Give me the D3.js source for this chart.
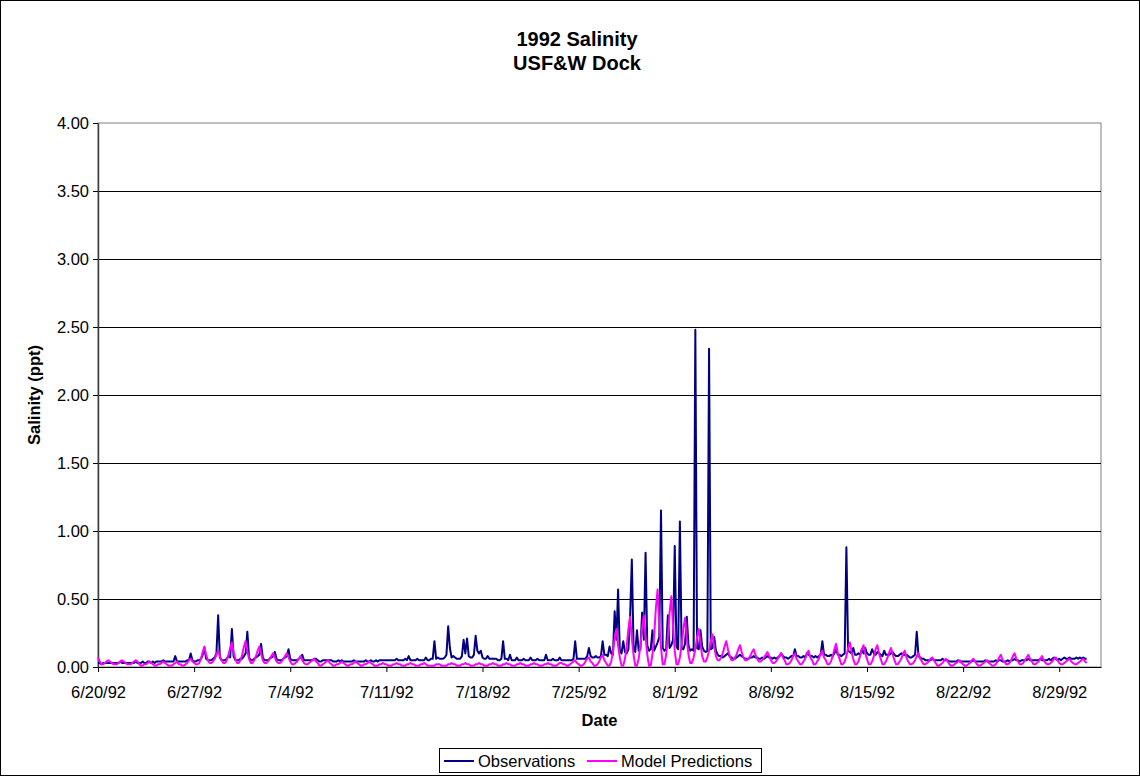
<!DOCTYPE html>
<html>
<head>
<meta charset="utf-8">
<script src="https://cdn.jsdelivr.net/npm/d3@7"></script>
<style>
  body { margin: 0; background: #fff; }
  svg { display: block; font-family: "Liberation Sans", Arial, sans-serif; }
</style>
</head>
<body>
<div id="chart"></div>
<script>
const titleLines = ["1992 Salinity", "USF&W Dock"]
const xTitle = "Date"
const yTitle = "Salinity (ppt)"
const seriesNames = ["Observations", "Model Predictions"]
const xTickLabels = ["6/20/92", "6/27/92", "7/4/92", "7/11/92", "7/18/92", "7/25/92",
  "8/1/92", "8/8/92", "8/15/92", "8/22/92", "8/29/92"]
const yTickValues = [0, 0.5, 1, 1.5, 2, 2.5, 3, 3.5, 4]

// readings every 3 hours starting 6/20/92 00:00, one line per day
const startDate = "6/20/92"
const stepHours = 3

const observations = [
  .03,.03,.02,.03,.03,.03,.03,.03, // 6/20
  .03,.03,.03,.03,.03,.04,.03,.03,
  .03,.03,.03,.03,.03,.03,.04,.03,
  .03,.03,.04,.03,.03,.04,.04,.03,
  .04,.03,.04,.04,.04,.04,.05,.04,
  .04,.04,.04,.04,.04,.08,.04,.04, // 6/25
  .04,.04,.04,.04,.05,.05,.10,.05,
  .04,.04,.05,.05,.06,.09,.14,.06,
  .05,.05,.05,.06,.07,.10,.38,.07,
  .05,.05,.05,.06,.08,.07,.28,.08,
  .05,.05,.05,.06,.06,.08,.10,.26, // 6/30
  .07,.05,.05,.06,.07,.08,.09,.17,
  .07,.05,.05,.05,.06,.07,.08,.11,
  .06,.05,.05,.05,.06,.07,.08,.13,
  .06,.05,.05,.05,.05,.06,.07,.09,
  .05,.05,.05,.05,.05,.05,.06,.06, // 7/5
  .05,.04,.04,.05,.05,.05,.05,.05,
  .05,.04,.04,.04,.05,.04,.05,.04,
  .04,.04,.04,.04,.04,.05,.04,.04,
  .04,.04,.04,.04,.05,.04,.04,.05,
  .04,.04,.05,.04,.05,.05,.05,.05, // 7/10
  .05,.05,.05,.05,.05,.05,.06,.05,
  .05,.05,.05,.06,.05,.08,.05,.05,
  .05,.05,.06,.05,.05,.05,.05,.07,
  .05,.05,.06,.06,.19,.06,.07,.06,
  .06,.06,.07,.09,.30,.14,.07,.08, // 7/15
  .07,.06,.06,.06,.08,.20,.10,.21,
  .08,.07,.07,.09,.23,.12,.10,.12,
  .07,.06,.06,.08,.06,.06,.06,.06,
  .06,.05,.05,.06,.19,.06,.06,.05,
  .09,.05,.05,.05,.07,.05,.05,.05, // 7/20
  .06,.05,.05,.05,.07,.05,.05,.05,
  .06,.05,.05,.05,.05,.09,.05,.05,
  .05,.06,.05,.05,.05,.07,.05,.05,
  .05,.05,.05,.05,.05,.06,.19,.06,
  .06,.06,.06,.06,.06,.08,.14,.08, // 7/25
  .07,.07,.08,.07,.07,.08,.19,.09,
  .09,.08,.15,.10,.09,.41,.20,.57,
  .12,.10,.19,.11,.10,.13,.37,.79,
  .15,.11,.27,.12,.13,.40,.20,.84,
  .16,.12,.13,.27,.12,.15,.18,.22, // 7/30
  1.15,.14,.12,.13,.38,.14,.16,.20,
  .89,.15,.13,1.07,.14,.13,.17,.37,
  .16,.12,.13,.12,2.48,.14,.13,.27,
  .15,.12,.11,.12,2.34,.13,.14,.22,
  .12,.09,.08,.08,.07,.08,.09,.10, // 8/4
  .08,.07,.06,.06,.07,.08,.09,.08,
  .07,.06,.06,.06,.07,.07,.08,.07,
  .07,.06,.06,.07,.06,.07,.08,.07,
  .07,.06,.07,.06,.07,.08,.10,.08,
  .07,.07,.06,.07,.08,.08,.13,.08, // 8/9
  .08,.07,.07,.08,.07,.10,.09,.08,
  .08,.07,.08,.07,.08,.09,.19,.09,
  .09,.08,.08,.09,.08,.10,.13,.09,
  .09,.08,.09,.10,.88,.12,.11,.10,
  .14,.09,.09,.10,.09,.13,.10,.14, // 8/14
  .10,.09,.09,.13,.10,.09,.11,.10,
  .09,.08,.12,.09,.09,.09,.10,.11,
  .09,.08,.08,.09,.10,.09,.09,.09,
  .08,.07,.07,.08,.09,.26,.08,.07,
  .06,.06,.05,.05,.05,.05,.06,.05, // 8/19
  .05,.05,.05,.05,.06,.05,.05,.05,
  .04,.04,.04,.04,.04,.05,.04,.04,
  .04,.04,.04,.04,.04,.04,.05,.04,
  .04,.04,.04,.04,.04,.05,.04,.04,
  .04,.04,.04,.05,.04,.05,.05,.04, // 8/24
  .04,.04,.05,.04,.05,.05,.06,.05,
  .05,.04,.05,.05,.05,.05,.06,.05,
  .05,.05,.05,.05,.05,.06,.05,.05,
  .05,.05,.06,.05,.06,.07,.06,.05,
  .06,.05,.06,.07,.06,.06,.07,.06, // 8/29
  .06,.06,.07,.06,.07,.06,.07,.06,
  .06
]

const modelPredictions = [
  .07,.04,.02,.02,.03,.04,.05,.04, // 6/20
  .03,.02,.02,.02,.03,.04,.05,.04,
  .03,.02,.02,.02,.03,.04,.05,.04,
  .02,.01,.01,.02,.02,.03,.04,.03,
  .02,.01,.01,.02,.02,.03,.04,.03,
  .02,.01,.01,.01,.02,.03,.04,.02, // 6/25
  .02,.01,.01,.02,.03,.05,.06,.04,
  .03,.02,.02,.03,.06,.11,.15,.09,
  .05,.03,.03,.04,.06,.09,.12,.08,
  .05,.03,.03,.05,.09,.14,.18,.11,
  .06,.03,.03,.05,.09,.15,.19,.12, // 6/30
  .06,.03,.03,.05,.08,.12,.15,.10,
  .05,.03,.03,.04,.06,.08,.10,.07,
  .04,.03,.03,.04,.06,.08,.10,.07,
  .04,.02,.02,.03,.04,.06,.08,.05,
  .03,.02,.02,.03,.04,.05,.06,.04, // 7/5
  .03,.01,.01,.02,.03,.04,.05,.03,
  .02,.01,.01,.02,.02,.03,.04,.03,
  .02,.01,.01,.02,.02,.03,.04,.03,
  .02,.01,.01,.02,.02,.03,.04,.03,
  .02,.01,.01,.01,.02,.02,.03,.02, // 7/10
  .02,.01,.01,.01,.02,.02,.03,.02,
  .02,.01,.01,.01,.02,.02,.03,.02,
  .02,.01,.01,.01,.02,.02,.03,.02,
  .01,.01,.01,.01,.01,.02,.02,.02,
  .01,.01,.01,.01,.02,.02,.03,.02, // 7/15
  .02,.01,.01,.01,.02,.02,.03,.02,
  .02,.01,.01,.01,.02,.02,.03,.02,
  .02,.01,.01,.01,.02,.02,.03,.02,
  .02,.01,.01,.01,.02,.02,.03,.02,
  .02,.01,.01,.01,.02,.02,.03,.02, // 7/20
  .02,.01,.01,.01,.02,.02,.03,.02,
  .02,.01,.01,.01,.02,.02,.03,.02,
  .02,.01,.01,.01,.02,.03,.03,.02,
  .02,.01,.01,.02,.03,.04,.05,.03,
  .02,.01,.01,.02,.04,.06,.07,.04, // 7/25
  .03,.01,.01,.02,.04,.07,.09,.05,
  .03,.01,.01,.04,.11,.21,.28,.16,
  .07,.01,.01,.06,.15,.28,.37,.21,
  .09,.01,.01,.06,.16,.29,.38,.22,
  .09,.01,.01,.09,.23,.43,.57,.32, // 7/30
  .14,.02,.02,.09,.22,.40,.52,.30,
  .12,.02,.02,.07,.16,.28,.36,.21,
  .09,.03,.03,.07,.13,.22,.28,.17,
  .08,.04,.04,.07,.12,.19,.24,.15,
  .08,.05,.05,.07,.10,.15,.19,.13, // 8/4
  .08,.05,.05,.07,.09,.13,.16,.11,
  .07,.05,.05,.06,.08,.11,.13,.09,
  .06,.04,.04,.05,.07,.09,.11,.08,
  .05,.03,.03,.04,.06,.08,.10,.07,
  .05,.02,.02,.03,.05,.08,.10,.06, // 8/9
  .04,.02,.02,.04,.06,.10,.12,.07,
  .05,.02,.02,.04,.06,.10,.12,.07,
  .05,.02,.02,.04,.08,.13,.17,.10,
  .06,.02,.02,.04,.08,.14,.18,.11,
  .06,.02,.02,.04,.08,.13,.16,.10, // 8/14
  .06,.02,.02,.04,.08,.13,.16,.10,
  .06,.02,.02,.04,.07,.11,.14,.09,
  .05,.02,.02,.04,.06,.10,.12,.07,
  .04,.02,.02,.03,.05,.08,.10,.06,
  .04,.02,.02,.03,.04,.06,.07,.05, // 8/19
  .03,.01,.01,.02,.03,.05,.06,.04,
  .02,.01,.01,.02,.03,.04,.05,.03,
  .02,.01,.01,.02,.03,.05,.06,.04,
  .02,.01,.01,.02,.03,.04,.05,.03,
  .02,.01,.01,.02,.04,.07,.09,.05, // 8/24
  .04,.02,.02,.03,.05,.08,.10,.06,
  .04,.02,.02,.03,.05,.07,.09,.06,
  .04,.02,.02,.03,.04,.06,.08,.05,
  .03,.02,.02,.03,.04,.06,.07,.05,
  .03,.02,.02,.03,.04,.05,.06,.04, // 8/29
  .03,.02,.02,.03,.04,.05,.06,.04,
  .03
]

const drawChart = () => {
  const width = 1140
  const height = 776
  const margin = { top: 123, right: 39, bottom: 109, left: 98 }
  const innerWidth = width - margin.left - margin.right
  const innerHeight = height - margin.top - margin.bottom

  const navy = "#000080"
  const magenta = "#FF00FF"

  const parseDate = d3.timeParse("%m/%d/%y")
  const start = parseDate(startDate)
  const timeAt = i => d3.timeHour.offset(start, i * stepHours)

  const svg = d3.select("#chart")
    .append("svg")
      .attr("width", width)
      .attr("height", height)

  svg.append("rect")
    .attr("x", 0.5).attr("y", 0.5)
    .attr("width", width - 1).attr("height", height - 1)
    .attr("fill", "#fff")
    .attr("stroke", "#000")

  // title
  svg.append("g")
    .selectAll("text")
    .data(titleLines)
    .join("text")
      .attr("x", 577)
      .attr("y", (d, i) => 46 + i * 24)
      .attr("text-anchor", "middle")
      .attr("font-weight", "bold")
      .attr("font-size", 20)
      .text(d => d)

  const xScale = d3.scaleTime()
    .domain([start, d3.timeHour.offset(start, 73 * 24 + 1)])
    .range([0, innerWidth])

  const yScale = d3.scaleLinear()
    .domain([0, 4])
    .range([innerHeight, 0])

  const chart = svg.append("g")
    .attr("transform", `translate(${margin.left}, ${margin.top})`)

  // plot area border
  chart.append("rect")
    .attr("x", 0).attr("y", 0)
    .attr("width", innerWidth).attr("height", innerHeight)
    .attr("fill", "none")
    .attr("stroke", "#808080")

  // gridlines
  chart.append("g")
    .selectAll("line")
    .data(yTickValues.filter(v => v > 0 && v < 4))
    .join("line")
      .attr("x1", 0)
      .attr("x2", innerWidth)
      .attr("y1", d => Math.round(yScale(d)) + 0.5)
      .attr("y2", d => Math.round(yScale(d)) + 0.5)
      .attr("stroke", "#000")

  const tickDates = xTickLabels.map(parseDate)
  const xAxis = d3.axisBottom(xScale)
    .tickValues(tickDates)
    .tickFormat((d, i) => xTickLabels[i])
    .tickSize(5)
    .tickSizeOuter(0)
  const xg = chart.append("g")
    .attr("transform", `translate(0, ${innerHeight})`)
    .call(xAxis)
  xg.selectAll("text")
    .attr("font-size", 16.5)
    .attr("y", 31)
    .attr("dy", 0)
    .attr("fill", "#000")
  xg.selectAll("line, path").attr("stroke", "#000")

  const yAxis = d3.axisLeft(yScale)
    .tickValues(yTickValues)
    .tickFormat(d3.format(".2f"))
    .tickSize(5)
    .tickSizeOuter(0)
  const yg = chart.append("g").call(yAxis)
  yg.selectAll("text").attr("font-size", 16.5).attr("x", -9).attr("fill", "#000")
  yg.selectAll("line, path").attr("stroke", "#000")
  yg.select(".domain").attr("stroke", "#404040").attr("stroke-width", 1.5)

  const line = d3.line()
    .x((d, i) => xScale(timeAt(i)))
    .y(d => yScale(d))

  chart.append("path")
    .attr("d", line(observations))
    .attr("fill", "none")
    .attr("stroke", navy)
    .attr("stroke-width", 2)
    .attr("stroke-linejoin", "round")

  chart.append("path")
    .attr("d", line(modelPredictions))
    .attr("fill", "none")
    .attr("stroke", magenta)
    .attr("stroke-width", 2)
    .attr("stroke-linejoin", "round")

  // axis titles
  svg.append("text")
    .attr("x", margin.left + innerWidth / 2)
    .attr("y", 726)
    .attr("text-anchor", "middle")
    .attr("font-weight", "bold")
    .attr("font-size", 16.5)
    .text(xTitle)

  svg.append("text")
    .attr("transform", `translate(40, ${margin.top + innerHeight / 2}) rotate(-90)`)
    .attr("text-anchor", "middle")
    .attr("font-weight", "bold")
    .attr("font-size", 16.5)
    .text(yTitle)

  // legend
  const legend = svg.append("g").attr("transform", "translate(439, 748)")
  legend.append("rect")
    .attr("x", 0.5).attr("y", 0.5)
    .attr("width", 322).attr("height", 24)
    .attr("fill", "#fff")
    .attr("stroke", "#000")
  const items = legend.selectAll("g.item")
    .data(seriesNames)
    .join("g")
      .attr("class", "item")
      .attr("transform", (d, i) => `translate(${i === 0 ? 5 : 148}, 13)`)
  items.append("line")
    .attr("x1", 0).attr("x2", 30)
    .attr("stroke", (d, i) => i === 0 ? navy : magenta)
    .attr("stroke-width", 2)
  items.append("text")
    .attr("x", 34)
    .attr("dy", "0.35em")
    .attr("font-size", 16.5)
    .text(d => d)
}

drawChart()
</script>
</body>
</html>
